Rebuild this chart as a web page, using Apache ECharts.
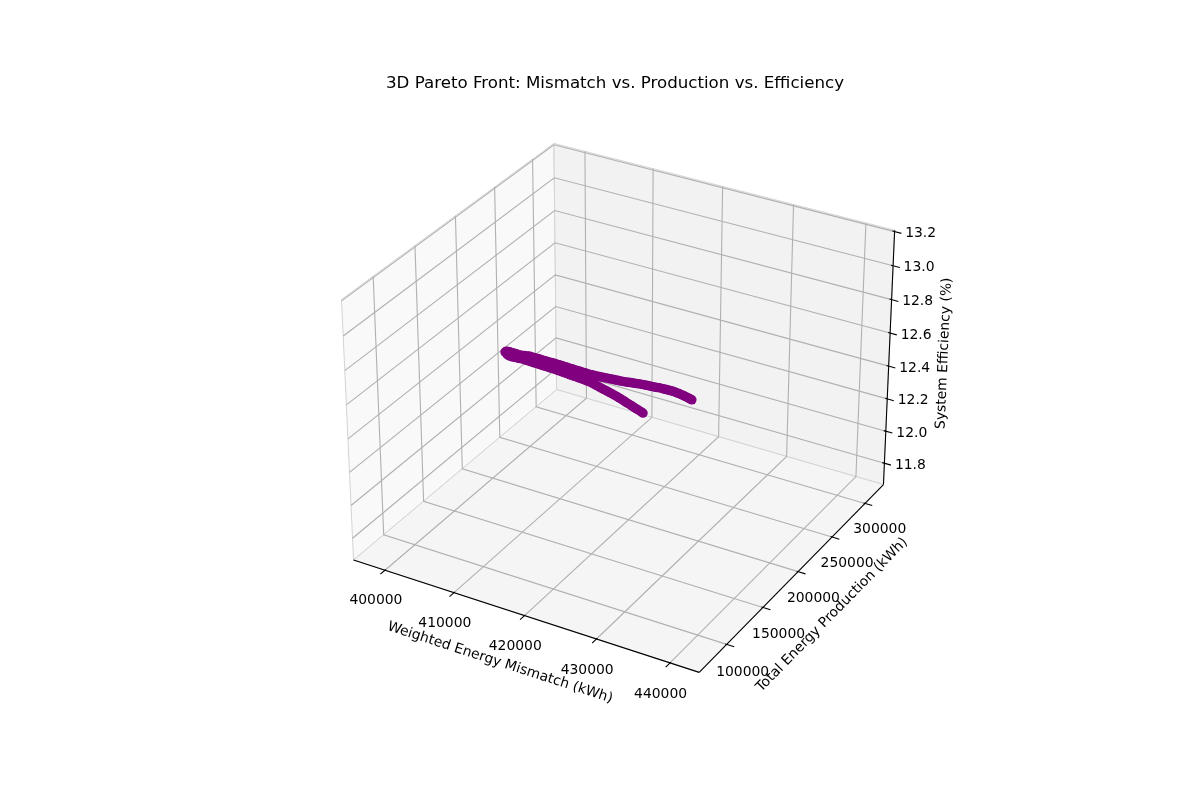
<!DOCTYPE html>
<html>
<head>
<meta charset="utf-8">
<script src="https://cdn.jsdelivr.net/npm/echarts@6/dist/echarts.min.js"></script>
<style>
html,body{margin:0;padding:0;background:#ffffff;}
#main{width:1200px;height:800px;}
</style>
</head>
<body>
<div id="main"></div>
<script>
// ---------------- data ----------------
const mismatch = [
  440829,440451,440072,439681,439289,438898,438506,438115,437723,437280,
  436836,436428,436020,435626,435231,434837,434442,433916,433389,432985,
  432581,432177,431773,431369,430965,430561,430157,429686,429215,428811,
  428407,428003,427599,427195,426791,426360,425929,425542,425155,424741,
  424326,423912,423497,423082,422667,422253,421838,421424,421009,420595,
  420180,419766,419351,418923,418494,418083,417672,417247,416821,416396,
  415971,415546,415120,414695,414270,413845,413419,412994,412569,412144,
  411718,411293,410867,410432,409997,409562,409126,408691,408256,407821,
  407386,406951,406516,406081,405646,405066,404485,404043,403600,403158,
  402716,402274,401831,401389,400946,400504,400061,399619,399177,398823,
  398468,
  398648,398828,399009,399189,399369,399549,399729,399909,400089,400269,
  400406,400543,400727,400911,401095,401279,401463,401647,401831,402015,
  402199,402383,402611,402839,403027,403215,403403,403590,403778,403966,
  404154,404341,404529,404717,404905,405092,405280,405468,405581,405693,
  405885,406076,406268,406459,406650,406841,407033,407224,407416,407607,
  407837,408066,408261,408456,408651,408845,409040,409235,409430,409624,
  409819,410014,410209,410403
];
const production = [
  80118,81559,83000,84500,86000,87500,89000,90500,92000,93717,
  95433,96967,98500,100000,101500,103000,104500,106500,108499,110000,
  111500,113000,114500,116000,117500,119000,120500,122250,124000,125500,
  127000,128500,130000,131500,133000,134612,136224,137612,139000,140500,
  142000,143500,145000,146500,148000,149500,151000,152500,154000,155500,
  157000,158500,160000,161563,163126,164563,166000,167500,169000,170500,
  172000,173500,175000,176500,178000,179500,181000,182500,184000,185500,
  187000,188513,190027,191513,193000,194500,196000,197500,199000,200500,
  202000,203500,205000,206500,208000,210022,212044,213522,215000,216500,
  218000,219500,221000,222500,224000,225500,227000,228500,230000,231220,
  232440,
  233670,234900,236150,237400,238650,239900,241150,242400,243650,244900,
  245867,246833,248067,249300,250550,251800,253050,254300,255550,256800,
  258050,259300,260835,262369,263635,264900,266150,267400,268650,269900,
  271150,272400,273650,274900,276150,277400,278650,279900,280642,281384,
  282642,283900,285150,286400,287650,288900,290150,291400,292650,293900,
  295410,296920,298160,299400,300650,301900,303150,304400,305650,306900,
  308150,309400,310644,311888
];
const efficiency = [
  13.122,13.117,13.112,13.107,13.101,13.095,13.089,13.083,13.076,13.069,
  13.061,13.053,13.045,13.037,13.029,13.021,13.013,13.002,12.990,12.981,
  12.973,12.964,12.956,12.948,12.939,12.931,12.922,12.912,12.901,12.892,
  12.883,12.874,12.865,12.856,12.846,12.837,12.827,12.819,12.811,12.803,
  12.794,12.786,12.777,12.769,12.760,12.752,12.743,12.735,12.726,12.718,
  12.709,12.701,12.693,12.684,12.675,12.668,12.661,12.654,12.646,12.639,
  12.631,12.624,12.616,12.609,12.601,12.594,12.587,12.580,12.572,12.565,
  12.557,12.550,12.542,12.535,12.527,12.519,12.511,12.504,12.496,12.489,
  12.481,12.474,12.466,12.458,12.450,12.440,12.430,12.421,12.411,12.402,
  12.392,12.383,12.375,12.368,12.360,12.353,12.345,12.338,12.329,12.322,
  12.308,
  12.289,12.279,12.272,12.266,12.261,12.255,12.250,12.245,12.238,12.231,
  12.226,12.220,12.213,12.206,12.200,12.193,12.186,12.179,12.173,12.166,
  12.159,12.152,12.144,12.135,12.128,12.120,12.113,12.105,12.098,12.090,
  12.083,12.076,12.069,12.061,12.054,12.046,12.039,12.031,12.027,12.022,
  12.012,12.002,11.992,11.982,11.972,11.962,11.953,11.943,11.933,11.923,
  11.911,11.899,11.888,11.877,11.866,11.854,11.843,11.832,11.821,11.809,
  11.798,11.787,11.776,11.764
];
const xTicks = [400000,410000,420000,430000,440000];
const yTicks = [100000,150000,200000,250000,300000];
const zTicks = [11.8,12.0,12.2,12.4,12.6,12.8,13.0,13.2];
const xRange = [395379,443917];
const yRange = [63219,328788];
const zRange = [11.6655,13.208];
const titleText = '3D Pareto Front: Mismatch vs. Production vs. Efficiency';
const xName = 'Weighted Energy Mismatch (kWh)';
const yName = 'Total Energy Production (kWh)';
const zName = 'System Efficiency (%)';

// ---------------- 3D view (elev 30, azim -60, perspective) ----------------
const ELEV = 30*Math.PI/180, AZIM = -60*Math.PI/180, DIST = 10;
const SCALE = 3466, CX = 623.2, CY = 395.7;
let BOX = [4,4,3];
const bn = Math.hypot(BOX[0],BOX[1],BOX[2]);
BOX = BOX.map(a => a*1.8294640721620434/bn);
const W = [Math.cos(ELEV)*Math.cos(AZIM), Math.cos(ELEV)*Math.sin(AZIM), Math.sin(ELEV)];
let U = [-W[1], W[0], 0];
const un = Math.hypot(U[0],U[1]);
U = [U[0]/un, U[1]/un, 0];
const V = [W[1]*U[2]-W[2]*U[1], W[2]*U[0]-W[0]*U[2], W[0]*U[1]-W[1]*U[0]];
const dot = (a,b) => a[0]*b[0]+a[1]*b[1]+a[2]*b[2];
// fractional box coordinates (0..1 on each axis) -> screen pixel
function P(fx, fy, fz){
  const Q = [(fx-0.5)*BOX[0], (fy-0.5)*BOX[1], (fz-0.5)*BOX[2]];
  const D = DIST - dot(W,Q);
  return [CX + SCALE*dot(U,Q)/D, CY - SCALE*dot(V,Q)/D];
}
const fxOf = x => (x-xRange[0])/(xRange[1]-xRange[0]);
const fyOf = y => (y-yRange[0])/(yRange[1]-yRange[0]);
const fzOf = z => (z-zRange[0])/(zRange[1]-zRange[0]);
const proj = (x,y,z) => P(fxOf(x), fyOf(y), fzOf(z));

const FONT = 'DejaVu Sans';
const GRID_C = '#b0b0b0';

// ---------------- frame elements ----------------
const panes = [
  {pts:[[0,0,0],[0,1,0],[0,1,1],[0,0,1]], fill:'#f9f9f9'},
  {pts:[[0,1,0],[1,1,0],[1,1,1],[0,1,1]], fill:'#f2f2f2'},
  {pts:[[0,0,0],[1,0,0],[1,1,0],[0,1,0]], fill:'#f5f5f5'}
];
const gridLines = [];
xTicks.forEach(t => { const f=fxOf(t); gridLines.push([[f,0,0],[f,1,0],[f,1,1]]); });
yTicks.forEach(t => { const f=fyOf(t); gridLines.push([[1,f,0],[0,f,0],[0,f,1]]); });
zTicks.forEach(t => { const f=fzOf(t); gridLines.push([[0,0,f],[0,1,f],[1,1,f]]); });
const axisLines = [
  [[0,0,0],[1,0,0]],
  [[1,0,0],[1,1,0]],
  [[1,1,0],[1,1,1]]
];
const tickLines = [];
xTicks.forEach(t => { const f=fxOf(t); tickLines.push([[f,-0.021,0],[f,0.004,0]]); });
yTicks.forEach(t => { const f=fyOf(t); tickLines.push([[1.021,f,0],[0.996,f,0]]); });
zTicks.forEach(t => { const f=fzOf(t); tickLines.push([[1.019,1,f],[0.994,1,f]]); });

const texts = [];
xTicks.forEach(t => { const p=P(fxOf(t),-0.0455,-0.0864); texts.push({p, s:String(t), r:0, size:13.9}); });
yTicks.forEach(t => { const p=P(1.0455,fyOf(t),-0.0887); texts.push({p, s:String(t), r:0, size:13.9}); });
zTicks.forEach(t => { const b=P(1,1,fzOf(t)); texts.push({p:[b[0]+26,b[1]+2], s:t.toFixed(1), r:0, size:13.9}); });
(function(){
  const a0=P(0,0,0), a1=P(1,0,0), b1=P(1,1,0), c1=P(1,1,1);
  const mx=P(0.5,0,0), my=P(1,0.5,0), mz=P(1,1,0.5);
  const rx=-Math.atan2(a1[1]-a0[1], a1[0]-a0[0]);
  const ry=-Math.atan2(b1[1]-a1[1], b1[0]-a1[0]);
  const rz=-Math.atan2(c1[1]-b1[1], c1[0]-b1[0]);
  texts.push({p:[mx[0]-22, mx[1]+48], s:xName, r:rx, size:13.9});
  texts.push({p:[my[0]+36.7, my[1]+40.5], s:yName, r:ry, size:13.9});
  texts.push({p:[mz[0]+55.2, mz[1]-6.8], s:zName, r:rz, size:13.9});
})();

const toPix = (api, pts) => pts.map(q => api.coord(P(q[0],q[1],q[2])));

const scatterData = mismatch.map((x,i) => proj(x, production[i], efficiency[i]));

const chart = echarts.init(document.getElementById('main'), null, {renderer:'canvas', width:1200, height:800});
chart.setOption({
  animation:false,
  backgroundColor:'#ffffff',
  title:{
    text:titleText, left:615, top:74, textAlign:'center', padding:0,
    textStyle:{fontFamily:FONT, fontSize:16.67, fontWeight:'normal', color:'#000000', lineHeight:20}
  },
  grid:{left:0, right:0, top:0, bottom:0, containLabel:false},
  xAxis:{type:'value', min:0, max:1200, show:false},
  yAxis:{type:'value', min:0, max:800, inverse:true, show:false},
  series:[
    {
      type:'custom', name:'panes', silent:true, clip:false, z:1,
      data: panes.map((_,i)=>[i,0]),
      renderItem:(params, api) => {
        const pn = panes[params.dataIndex];
        return {type:'polygon', shape:{points:toPix(api, pn.pts)},
                style:{fill:pn.fill, stroke:'#d4d4d4', lineWidth:1}};
      }
    },
    {
      type:'custom', name:'grid', silent:true, clip:false, z:2,
      data: gridLines.map((_,i)=>[i,0]),
      renderItem:(params, api) => ({type:'polyline', shape:{points:toPix(api, gridLines[params.dataIndex])},
                style:{stroke:GRID_C, lineWidth:1.1, fill:null}})
    },
    {
      type:'custom', name:'axes', silent:true, clip:false, z:3,
      data: axisLines.map((_,i)=>[i,0]),
      renderItem:(params, api) => ({type:'polyline', shape:{points:toPix(api, axisLines[params.dataIndex])},
                style:{stroke:'#000000', lineWidth:1.1, fill:null}})
    },
    {
      type:'custom', name:'ticks', silent:true, clip:false, z:3,
      data: tickLines.map((_,i)=>[i,0]),
      renderItem:(params, api) => ({type:'polyline', shape:{points:toPix(api, tickLines[params.dataIndex])},
                style:{stroke:'#000000', lineWidth:1.1, fill:null}})
    },
    {
      type:'custom', name:'labels', silent:true, clip:false, z:4,
      data: texts.map((_,i)=>[i,0]),
      renderItem:(params, api) => {
        const t = texts[params.dataIndex];
        const c = api.coord(t.p);
        return {type:'text', x:c[0], y:c[1], rotation:t.r,
                style:{text:t.s, fill:'#000000', fontSize:t.size, fontFamily:FONT,
                       align:'center', verticalAlign:'middle'}};
      }
    },
    {
      type:'scatter', name:'Pareto front', silent:true, z:5,
      symbol:'circle', symbolSize:9.5,
      itemStyle:{color:'#800080', opacity:1},
      data: scatterData
    }
  ]
});
</script>
</body>
</html>
